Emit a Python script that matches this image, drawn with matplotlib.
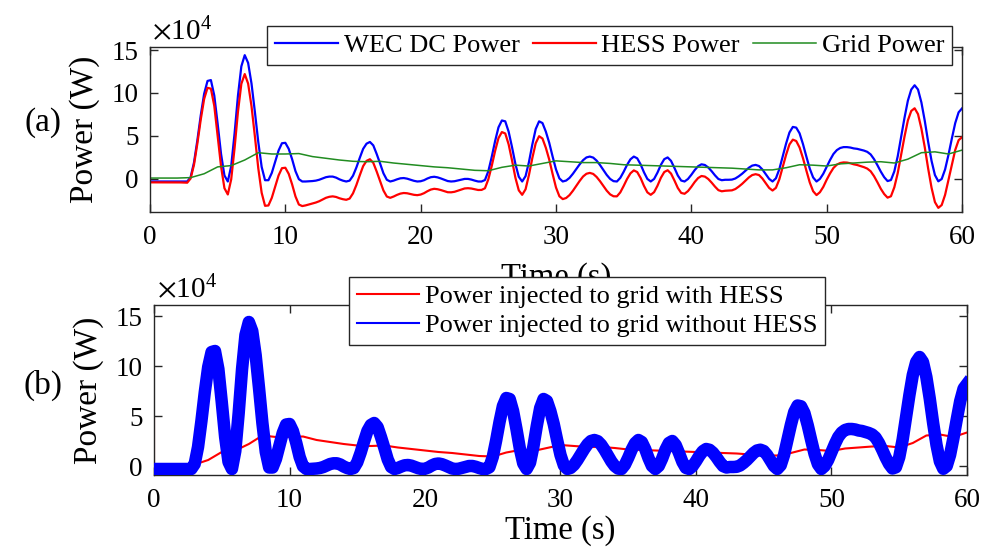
import numpy as np
import matplotlib
matplotlib.use('Agg')
import matplotlib.pyplot as plt

plt.rcParams['font.family'] = ['Liberation Serif', 'DejaVu Serif']
plt.rcParams['mathtext.fontset'] = 'stix'

# time bases (s)
t = np.linspace(0, 60, 241)        # 0.25 s sampling
t_grid = np.arange(0, 61)          # 1 s sampling

# powers in units of 1e4 W
wec_dc = [
    -0.3, -0.3, -0.3, -0.3,
    -0.3, -0.3, -0.3, -0.3,
    -0.3, -0.3, -0.3, -0.3,
    0.2, 1.9, 4.5, 7.4,
    9.9, 11.4, 11.5, 9.7,
    6.4, 2.9, 0.4, -0.3,
    1.5, 5.3, 9.7, 13.1,
    14.4, 13.5, 11.1, 7.8,
    4.3, 1.4, -0.15, -0.15,
    0.7, 2.0, 3.3, 4.15,
    4.2, 3.5, 2.3, 0.9,
    -0.03, -0.3, -0.3, -0.28,
    -0.25, -0.2, -0.1, 0.05,
    0.2, 0.27, 0.27, 0.15,
    -0.05, -0.2, -0.3, -0.2,
    0.37, 1.33, 2.45, 3.5,
    4.1, 4.3, 3.9, 2.9,
    1.8, 0.65, -0.1, -0.3,
    -0.2, -0.05, 0.07, 0.1,
    0.03, -0.1, -0.22, -0.3,
    -0.27, -0.15, 0.05, 0.2,
    0.25, 0.18, 0.05, -0.1,
    -0.25, -0.3, -0.27, -0.18,
    -0.08, 0.0, 0.0, -0.08,
    -0.2, -0.3, -0.3, -0.13,
    0.9, 2.55, 4.4, 6.0,
    6.8, 6.7, 5.5, 3.7,
    1.74, 0.25, -0.3, 0.32,
    1.95, 4.0, 5.8, 6.7,
    6.5, 5.5, 4.2, 2.6,
    1.1, 0.06, -0.3, -0.19,
    0.12, 0.6, 1.15, 1.7,
    2.18, 2.5, 2.6, 2.48,
    2.13, 1.62, 1.03, 0.46,
    0.0, -0.26, -0.3, 0.12,
    0.83, 1.63, 2.28, 2.6,
    2.4, 1.7, 0.77, 0.0,
    -0.3, 0.0, 0.74, 1.64,
    2.3, 2.5, 2.1, 1.28,
    0.4, -0.19, -0.3, -0.01,
    0.48, 1.03, 1.48, 1.7,
    1.62, 1.33, 0.9, 0.41,
    -0.01, -0.15, -0.1, -0.1,
    -0.08, 0.05, 0.3, 0.6,
    0.95, 1.3, 1.55, 1.63,
    1.5, 1.1, 0.55, 0.0,
    -0.3, 0.07, 1.12, 2.6,
    4.1, 5.4, 6.05, 5.97,
    5.3, 4.05, 2.6, 1.2,
    0.17, -0.3, 0.0, 0.6,
    1.4, 2.2, 2.9, 3.35,
    3.6, 3.7, 3.7, 3.65,
    3.55, 3.5, 3.4, 3.3,
    3.15, 2.85, 2.3, 1.6,
    0.85, 0.2, -0.25, -0.13,
    0.88, 2.63, 4.85, 7.1,
    9.1, 10.4, 10.9, 10.4,
    8.9, 6.75, 4.3, 2.1,
    0.45, -0.28, -0.01, 1.1,
    2.8, 4.7, 6.5, 7.75,
    8.2,
]

hess = [
    -0.4, -0.4, -0.4, -0.4,
    -0.4, -0.4, -0.4, -0.4,
    -0.4, -0.41, -0.42, -0.44,
    0.05, 1.64, 4.12, 6.91,
    9.3, 10.6, 10.5, 8.5,
    5.0, 1.46, -1.08, -1.81,
    -0.05, 3.59, 7.82, 11.06,
    12.2, 11.09, 8.47, 4.96,
    1.25, -1.61, -3.13, -3.09,
    -2.2, -0.9, 0.4, 1.25,
    1.3, 0.59, -0.63, -2.04,
    -2.98, -3.16, -3.08, -2.97,
    -2.85, -2.75, -2.6, -2.4,
    -2.2, -2.08, -2.03, -2.1,
    -2.25, -2.36, -2.43, -2.29,
    -1.68, -0.71, 0.42, 1.49,
    2.1, 2.29, 1.87, 0.86,
    -0.25, -1.35, -2.05, -2.2,
    -2.05, -1.86, -1.71, -1.64,
    -1.67, -1.76, -1.85, -1.89,
    -1.82, -1.66, -1.43, -1.24,
    -1.15, -1.2, -1.3, -1.43,
    -1.55, -1.56, -1.5, -1.37,
    -1.23, -1.11, -1.08, -1.12,
    -1.2, -1.29, -1.28, -1.09,
    -0.05, 1.5, 3.25, 4.75,
    5.45, 5.29, 4.02, 2.16,
    0.14, -1.33, -1.85, -1.21,
    0.45, 2.42, 4.15, 4.97,
    4.7, 3.62, 2.25, 0.57,
    -1.0, -2.02, -2.35, -2.22,
    -1.88, -1.38, -0.8, -0.23,
    0.28, 0.6, 0.7, 0.58,
    0.23, -0.26, -0.82, -1.37,
    -1.8, -2.02, -2.03, -1.57,
    -0.82, -0.01, 0.65, 0.99,
    0.8, 0.11, -0.81, -1.56,
    -1.85, -1.54, -0.79, 0.13,
    0.8, 1.01, 0.62, -0.18,
    -1.05, -1.63, -1.73, -1.42,
    -0.92, -0.36, 0.1, 0.34,
    0.27, -0.01, -0.43, -0.9,
    -1.31, -1.44, -1.38, -1.36,
    -1.33, -1.18, -0.9, -0.58,
    -0.2, 0.17, 0.45, 0.55,
    0.45, 0.05, -0.5, -1.05,
    -1.35, -1.04, -0.06, 1.36,
    2.8, 4.01, 4.57, 4.41,
    3.65, 2.41, 0.97, -0.41,
    -1.43, -1.88, -1.55, -0.93,
    -0.1, 0.64, 1.27, 1.66,
    1.85, 1.92, 1.9, 1.82,
    1.7, 1.62, 1.5, 1.37,
    1.2, 0.89, 0.32, -0.39,
    -1.15, -1.76, -2.18, -2.02,
    -0.97, 0.67, 2.77, 4.91,
    6.8, 7.91, 8.22, 7.54,
    5.85, 3.67, 1.2, -1.03,
    -2.7, -3.37, -3.04, -1.86,
    -0.1, 1.69, 3.37, 4.51,
    4.85,
]

grid = [
    0.1, 0.1, 0.1, 0.15, 0.6, 1.4, 1.55, 2.2, 3.05, 2.9,
    2.9, 2.95, 2.6, 2.4, 2.2, 2.05, 2.0, 2.05, 1.85, 1.7,
    1.55, 1.4, 1.3, 1.15, 1.0, 0.95, 1.35, 1.6, 1.5, 1.8,
    2.1, 2.0, 1.9, 1.9, 1.8, 1.65, 1.6, 1.55, 1.5, 1.45,
    1.4, 1.35, 1.3, 1.25, 1.15, 1.05, 1.05, 1.3, 1.65, 1.6,
    1.5, 1.75, 1.85, 1.95, 2.0, 1.85, 2.3, 3.05, 3.15, 2.9,
    3.35,
]

# grid power with HESS has a start-up spike at t = 0
spike_t = [0.0, 0.0]
spike_p = [4.7, 0.1]

blue = (0, 0, 1)
red = (1, 0, 0)
green = (0.13, 0.55, 0.13)
axis_col = '#262626'

fig = plt.figure(figsize=(9.95, 5.47), dpi=100)
ax1 = fig.add_axes([150 / 995, 1 - 212 / 547, 812 / 995, 165 / 547])
ax2 = fig.add_axes([154 / 995, 1 - 475 / 547, 813 / 995, 170 / 547])

# --- (a) ---
ax1.plot(t, wec_dc, color=blue, lw=1.6, label='WEC DC Power')
ax1.plot(t, hess, color=red, lw=1.6, label='HESS Power')
ax1.plot(t_grid, grid, color=green, lw=1.1, label='Grid Power')
ax1.set_ylim(-3.85, 15.35)

# --- (b) ---
ax2.plot(spike_t + list(t_grid), spike_p + grid, color=red, lw=1.5,
         label='Power injected to grid with HESS', zorder=2)
ax2.plot(t, wec_dc, color=blue, lw=9, label='Power injected to grid without HESS',
         zorder=3)
ax2.set_ylim(-0.9, 16.1)

for ax in (ax1, ax2):
    ax.set_xlim(0, 60)
    ax.set_xticks([0, 10, 20, 30, 40, 50, 60])
    ax.set_yticks([0, 5, 10, 15])
    ax.tick_params(direction='in', length=6, width=1, colors=axis_col,
                   labelcolor='black', labelsize=19.5, top=True, right=True)
    ax.tick_params(axis='x', pad=9.5)
    ax.tick_params(axis='y', pad=8)
    for s in ax.spines.values():
        s.set_color(axis_col)
        s.set_linewidth(1)
    ax.set_ylabel('Power (W)', fontsize=24)
    ax.yaxis.set_label_coords(-0.062, 0.5)

ax1.set_xlabel('Time (s)', fontsize=23.5)
ax2.set_xlabel('Time (s)', fontsize=23.5)
ax1.xaxis.set_label_coords(0.5, -0.305)
ax2.xaxis.set_label_coords(0.5, -0.235)

ax1.text(0.002, 1.045, r'$\times\mathregular{10^{4}}$', transform=ax1.transAxes,
         fontsize=21, va='baseline', ha='left')
ax2.text(0.004, 1.045, r'$\times\mathregular{10^{4}}$', transform=ax2.transAxes,
         fontsize=21, va='baseline', ha='left')

fig.text(43 / 995, 1 - 123 / 547, '(a)', fontsize=24, ha='center', va='center')
fig.text(43 / 995, 1 - 385 / 547, '(b)', fontsize=24, ha='center', va='center')

leg1 = ax1.legend(loc='upper right', bbox_to_anchor=(952 / 995, 1 - 26 / 547),
                  bbox_transform=fig.transFigure, ncol=3, fontsize=19,
                  handlelength=2.4, handletextpad=0.2, columnspacing=0.5,
                  borderpad=0.3, borderaxespad=0, fancybox=False,
                  framealpha=1, edgecolor=axis_col)
leg1.get_frame().set_linewidth(1)
leg1.set_zorder(10)

leg2 = ax2.legend(loc='upper right', bbox_to_anchor=(825 / 995, 1 - 277 / 547),
                  bbox_transform=fig.transFigure, ncol=1, fontsize=19,
                  handlelength=2.35, handletextpad=0.2, labelspacing=0.2,
                  borderpad=0.3, borderaxespad=0, fancybox=False,
                  framealpha=1, edgecolor=axis_col)
leg2.get_frame().set_linewidth(1)
leg2.set_zorder(10)
for line in leg2.get_lines():
    line.set_linewidth(1.5)

fig.savefig('out.png', dpi=100)
